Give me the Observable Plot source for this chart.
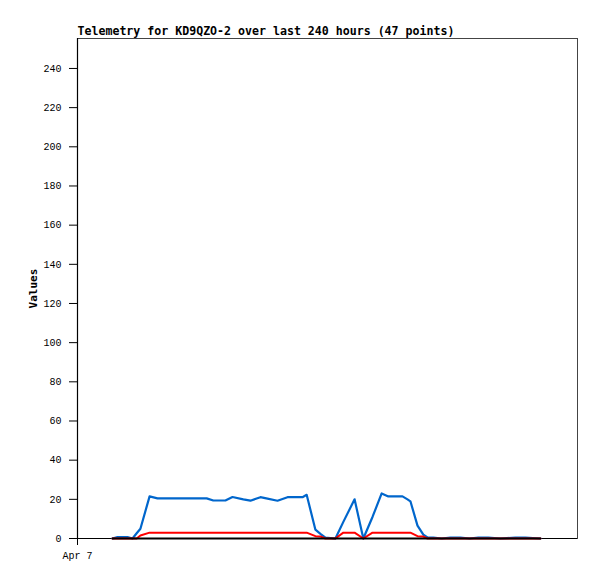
<!DOCTYPE html>
<html>
<head>
<meta charset="utf-8">
<script src="https://cdn.jsdelivr.net/npm/d3@7"></script>
<script src="https://cdn.jsdelivr.net/npm/@observablehq/plot@0.6"></script>
<style>
  html, body { margin: 0; padding: 0; background: #fff; }
</style>
</head>
<body>
<div id="chart"></div>
<script>
const titleText = "Telemetry for KD9QZO-2 over last 240 hours (47 points)";
const yLabel = "Values";
const xTickLabel = "Apr 7";
const yTicks = [0, 20, 40, 60, 80, 100, 120, 140, 160, 180, 200, 220, 240];

// sample times on Apr 7 (UTC), HH:MM
const times = ["01:24","01:36","02:00","02:12","02:22","02:31","02:53","03:12","05:10","05:26",
  "05:55","06:12","06:38","06:55","07:19","07:36","08:00","08:24","09:00","09:10",
  "09:31","09:43","09:55","10:19","10:38","11:05","11:26","11:48","12:10","12:26",
  "13:00","13:12","13:19","13:36","13:50","14:00","14:14","14:34","14:55","15:19",
  "15:41","16:02","16:26","16:55","17:31","17:55","18:31"];

const blueSeries = [0,0.7,0.7,0,2.7,5,21.5,20.5,20.5,19.4,
  19.4,21.2,20,19.3,21.1,20.4,19.3,21.1,21.1,22.3,
  4.5,2.4,0.5,0,8.5,20,0,11,23,21.5,
  21.5,20,19,6.6,2,0.5,0.5,0,0.5,0.5,
  0,0.5,0.5,0,0.5,0.5,0];

const redSeries = [0,0,0,0,0,1.5,3,3,3,3,
  3,3,3,3,3,3,3,3,3,3,
  1.2,1,0,0,3,3,0,3,3,3,
  3,3,3,1.2,1,0,0,0,0,0,
  0,0,0,0,0,0,0];

const blackSeries = times.map(() => 0);

const day = "2024-04-07";
const parseT = t => new Date(`${day}T${t}:00Z`);
const xStart = new Date(`${day}T00:00:00Z`);
const xEnd = new Date(`${day}T20:00:00Z`);

const rows = [];
const addSeries = (name, vals) => vals.forEach((v, i) => rows.push({series: name, t: parseT(times[i]), v}));
addSeries("blue", blueSeries);
addSeries("red", redSeries);
addSeries("black", blackSeries);

const chart = Plot.plot({
  width: 597,
  height: 579,
  marginLeft: 77,
  marginRight: 20,
  marginTop: 38,
  marginBottom: 41,
  style: {fontFamily: "'Liberation Mono', 'DejaVu Sans Mono', monospace", fontSize: "10px", background: "#fff", color: "#000"},
  x: {type: "utc", domain: [xStart, xEnd]},
  y: {domain: [0, 255.3]},
  marks: [
    Plot.frame({stroke: "#444", strokeWidth: 1}),
    Plot.axisY(yTicks, {tickSize: 8, tickPadding: 8, label: null, fontSize: 10}),
    Plot.axisX([xStart], {tickSize: 7, tickPadding: 6, label: null, tickFormat: () => xTickLabel, fontSize: 10}),
    Plot.ruleX([xStart], {stroke: "#000", strokeWidth: 1.2}),
    Plot.ruleY([0], {stroke: "#000", strokeWidth: 1.2}),
    Plot.line(rows.filter(d => d.series === "blue"), {x: "t", y: "v", stroke: "#0066cc", strokeWidth: 2.2}),
    Plot.line(rows.filter(d => d.series === "red"), {x: "t", y: "v", stroke: "#ff0000", strokeWidth: 2}),
    Plot.line(rows.filter(d => d.series === "black"), {x: "t", y: "v", stroke: "#000", strokeWidth: 2}),
    Plot.text([titleText], {frameAnchor: "top-left", textAnchor: "start", lineAnchor: "bottom", dy: -4,
      fontSize: 11.6, fontWeight: "bold", fontFamily: "'DejaVu Sans Mono', monospace"}),
    Plot.text([yLabel], {frameAnchor: "left", textAnchor: "middle", dx: -44, rotate: -90, fontSize: 11, fontWeight: "bold",
      fontFamily: "'DejaVu Sans Mono', monospace"})
  ]
});
document.getElementById("chart").appendChild(chart);
</script>
</body>
</html>
